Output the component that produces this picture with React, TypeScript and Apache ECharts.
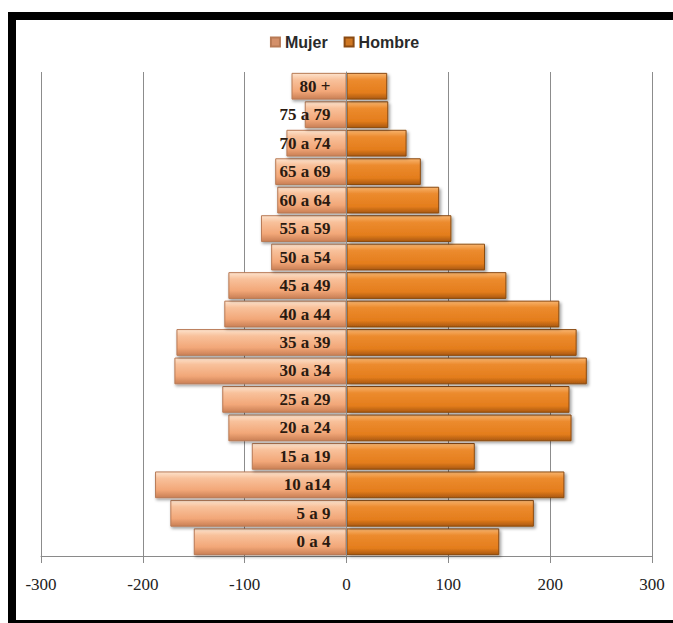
import React, { useEffect, useRef } from "react";
import * as echarts from "echarts";

const categories = [
  "0 a 4", "5 a 9", "10 a14", "15 a 19", "20 a 24", "25 a 29", "30 a 34",
  "35 a 39", "40 a 44", "45 a 49", "50 a 54", "55 a 59", "60 a 64",
  "65 a 69", "70 a 74", "75 a 79", "80 +",
];
// Mujer counts (drawn to the left)
const mujer = [150, 173, 188, 93, 116, 122, 169, 167, 120, 116, 74, 84, 68, 70, 59, 41, 54];
// Hombre counts (drawn to the right)
const hombre = [150, 184, 214, 126, 221, 219, 236, 226, 209, 157, 136, 103, 91, 73, 59, 41, 40];
const xTicks = { min: -300, max: 300, interval: 100 };

const GRID_LEFT = 25;
const GRID_RIGHT = 21;
const CHART_W = 657;

export default function App() {
  const ref = useRef<HTMLDivElement>(null);
  useEffect(() => {
    if (!ref.current) return;
    const chart = echarts.init(ref.current, undefined, { renderer: "svg" });
    const mujerColor = new echarts.graphic.LinearGradient(0, 0, 0, 1, [
      { offset: 0, color: "#fde3cd" },
      { offset: 0.25, color: "#f8c19b" },
      { offset: 0.7, color: "#f2a778" },
      { offset: 1, color: "#c97f55" },
    ]);
    const hombreColor = new echarts.graphic.LinearGradient(0, 0, 0, 1, [
      { offset: 0, color: "#f8b46e" },
      { offset: 0.25, color: "#ec8b2e" },
      { offset: 0.75, color: "#e47d1c" },
      { offset: 1, color: "#a9580f" },
    ]);
    const plotW = CHART_W - GRID_LEFT - GRID_RIGHT;
    const zeroOffset = -plotW * ((0 - xTicks.min) / (xTicks.max - xTicks.min));
    chart.setOption({
      animation: false,
      backgroundColor: "#ffffff",
      legend: {
        top: 9,
        left: "center",
        icon: "rect",
        itemWidth: 9,
        itemHeight: 9,
        itemGap: 16,
        textStyle: {
          fontFamily: "Liberation Sans",
          fontSize: 16,
          fontWeight: "bold",
          color: "#2a2a2a",
        },
        data: [
          { name: "Mujer", itemStyle: { color: "#d4906a" } },
          { name: "Hombre", itemStyle: { color: "#cf7722" } },
        ],
      },
      grid: {
        left: GRID_LEFT,
        right: GRID_RIGHT,
        top: 52,
        bottom: 64,
        containLabel: false,
        outerBoundsMode: "none",
      },
      xAxis: {
        type: "value",
        min: xTicks.min,
        max: xTicks.max,
        interval: xTicks.interval,
        axisLine: { show: true, onZero: false, lineStyle: { color: "#8a8a8a", width: 1 } },
        axisTick: { show: true, length: 7, lineStyle: { color: "#8a8a8a" } },
        splitLine: { show: true, lineStyle: { color: "#8c8c8c", width: 1 } },
        axisLabel: {
          margin: 20,
          fontFamily: "Liberation Serif",
          fontSize: 17,
          color: "#222",
        },
      },
      yAxis: {
        type: "category",
        data: categories,
        z: 5,
        position: "left",
        offset: zeroOffset,
        axisLine: { show: true, onZero: false, lineStyle: { color: "#8a8a8a" } },
        axisTick: { show: false },
        axisLabel: {
          margin: 16,
          fontFamily: "Liberation Serif",
          fontWeight: "bold",
          fontSize: 17,
          color: "#2a1a10",
        },
      },
      series: [
        {
          name: "Mujer",
          type: "bar",
          stack: "total",
          barCategoryGap: "6%",
          data: mujer.map((v) => -v),
          itemStyle: {
            color: mujerColor,
            borderColor: "#b87a55",
            borderWidth: 1,
            shadowBlur: 3,
            shadowColor: "rgba(0,0,0,0.35)",
            shadowOffsetX: 1,
            shadowOffsetY: 2,
          },
        },
        {
          name: "Hombre",
          type: "bar",
          stack: "total",
          barCategoryGap: "6%",
          data: hombre,
          itemStyle: {
            color: hombreColor,
            borderColor: "#8a4a12",
            borderWidth: 1,
            shadowBlur: 3,
            shadowColor: "rgba(0,0,0,0.35)",
            shadowOffsetX: 2,
            shadowOffsetY: 2,
          },
        },
      ],
    });
    return () => chart.dispose();
  }, []);
  return (
    <div
      style={{
        position: "absolute",
        left: 8,
        top: 12,
        width: 665,
        height: 611,
        borderTop: "8px solid #000",
        borderLeft: "8px solid #000",
        borderBottom: "3px solid #000",
        boxSizing: "border-box",
        background: "#fff",
        overflow: "hidden",
      }}
    >
      <div ref={ref} style={{ width: CHART_W, height: 600 }} />
    </div>
  );
}
